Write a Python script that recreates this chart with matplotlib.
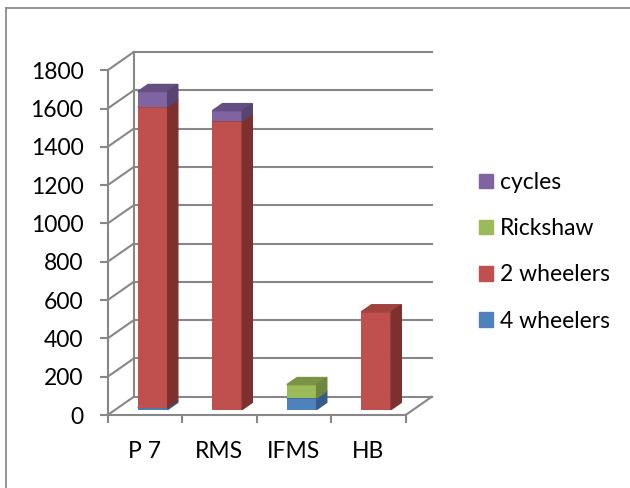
import matplotlib
matplotlib.use('Agg')
import matplotlib.pyplot as plt
from matplotlib.patches import Polygon, Patch
from matplotlib.lines import Line2D

plt.rcParams['font.family'] = ['Lato', 'DejaVu Sans']

# Datos
categorias = ['P 7', 'RMS', 'IFMS', 'HB']
series = ['4 wheelers', '2 wheelers', 'Rickshaw', 'cycles']
cuatro_ruedas = [10, 0, 60, 0]
dos_ruedas = [1570, 1505, 0, 510]
rickshaw = [0, 0, 70, 0]
bicis = [80, 55, 0, 0]
valores = [cuatro_ruedas, dos_ruedas, rickshaw, bicis]
yticks = list(range(0, 1801, 200))

# colores: frente, techo, lateral
colores = {
    '4 wheelers': ('#4F81BD', '#3E6796', '#365B86'),
    '2 wheelers': ('#C0504D', '#A0413E', '#7E302E'),
    'Rickshaw': ('#9BBB59', '#7A9446', '#6E863F'),
    'cycles': ('#8064A2', '#654F82', '#574470'),
}
gris = '#878787'

# profundidad del efecto 3D (en unidades de datos)
DX, DY = 0.35, 95.0
ancho = 0.40
f0, f1 = 0.30, 0.69   # posicion del frente y del fondo de la barra

fig = plt.figure(figsize=(6.3, 4.88), dpi=100)
ax = fig.add_axes([107.7 / 630, 73 / 488, 324 / 630, 363 / 488])
ax.set_xlim(-0.5, 3.5 + DX)
ax.set_ylim(0, 1800 + DY)

# paredes: rejilla del fondo y diagonales de la pared izquierda
for v in yticks:
    ax.plot([-0.5 + DX, 3.5 + DX], [v + DY, v + DY], color=gris, lw=1.5, zorder=1, clip_on=False)
    ax.plot([-0.5, -0.5 + DX], [v, v + DY], color=gris, lw=1.5, zorder=1, clip_on=False)
ax.plot([-0.5 + DX, -0.5 + DX], [DY, 1800 + DY], color=gris, lw=1.5, zorder=1, clip_on=False)
# suelo
ax.plot([3.5, 3.5 + DX], [0, DY], color=gris, lw=1.5, zorder=1, clip_on=False)

# barras apiladas
d = f1 - f0
base = [0] * len(categorias)
for nombre, vals in zip(series, valores):
    frente, techo, lado = colores[nombre]
    for i, v in enumerate(vals):
        if v <= 0:
            continue
        x0 = i + f0 * DX - ancho / 2
        x1 = x0 + ancho
        b = base[i] + f0 * DY
        t = b + v
        ax.bar(i + f0 * DX, v, width=ancho, bottom=b, color=frente, zorder=3 + i)
        ax.add_patch(Polygon([(x0, t), (x1, t), (x1 + d * DX, t + d * DY), (x0 + d * DX, t + d * DY)],
                             closed=True, color=techo, zorder=3 + i))
        ax.add_patch(Polygon([(x1, b), (x1 + d * DX, b + d * DY), (x1 + d * DX, t + d * DY), (x1, t)],
                             closed=True, color=lado, zorder=3 + i))
        base[i] += v

# ejes frontales
for s in ['top', 'right']:
    ax.spines[s].set_visible(False)
for s in ['left', 'bottom']:
    ax.spines[s].set_color(gris)
    ax.spines[s].set_linewidth(1.5)
ax.spines['left'].set_bounds(0, 1800)
ax.spines['bottom'].set_bounds(-0.5, 3.5)
ax.patch.set_visible(False)

ax.set_yticks(yticks)
ax.set_yticklabels([str(v) for v in yticks], fontsize=16.5)
ax.tick_params(axis='y', direction='out', length=5.5, width=1.5, color=gris, pad=12)

ax.set_xticks([-0.5, 0.5, 1.5, 2.5, 3.5])
ax.set_xticklabels([])
ax.tick_params(axis='x', which='major', direction='out', length=5.5, width=1.5, color=gris)
ax.set_xticks(range(len(categorias)), minor=True)
ax.set_xticklabels(categorias, minor=True, fontsize=16.5)
ax.tick_params(axis='x', which='minor', length=0, pad=19)

# leyenda
handles = [Patch(color=colores[n][0]) for n in reversed(series)]
fig.legend(handles, list(reversed(series)), loc='upper left',
           bbox_to_anchor=(479 / 630, 1 - 172 / 488), frameon=False, fontsize=16.5,
           handlelength=0.6, handleheight=0.6, handletextpad=0.3, labelspacing=1.1,
           borderpad=0, borderaxespad=0)

# marco exterior
fig.add_artist(Line2D([6 / 630, 6 / 630], [0, 1 - 7.5 / 488], color='#8c8c8c', lw=1.3))
fig.add_artist(Line2D([6 / 630, 1], [1 - 7.5 / 488, 1 - 7.5 / 488], color='#8c8c8c', lw=1.3))

fig.savefig('out.png', dpi=100)
